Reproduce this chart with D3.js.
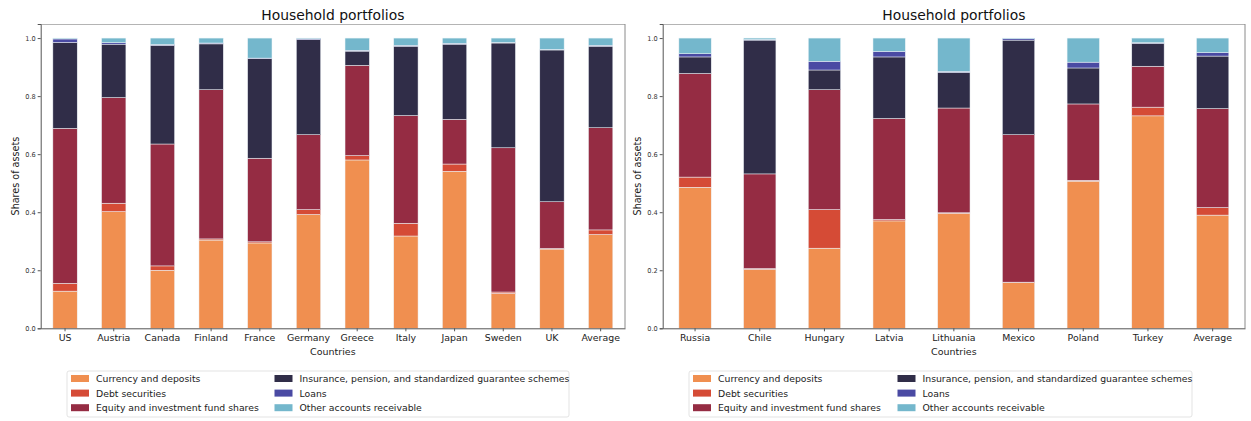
<!DOCTYPE html>
<html>
<head>
<meta charset="utf-8">
<script src="https://cdn.jsdelivr.net/npm/d3@7"></script>
<style>
  html, body { margin: 0; padding: 0; background: #fff; }
  svg { display: block; font-family: "DejaVu Sans", sans-serif; }
</style>
</head>
<body>
<svg id="chart" width="1251" height="421"></svg>
<script>
// Asset categories (stack order, bottom to top)
const assetTypes = [
  "Currency and deposits",
  "Debt securities",
  "Equity and investment fund shares",
  "Insurance, pension, and standardized guarantee schemes",
  "Loans",
  "Other accounts receivable"
];
const assetColors = ["#f08f50", "#d54b36", "#952c43", "#302d48", "#4a4aa3", "#74b7cc"];

// Advanced economies
const advCountries = ["US", "Austria", "Canada", "Finland", "France", "Germany", "Greece", "Italy", "Japan", "Sweden", "UK", "Average"];
const advCurrency  = [0.128, 0.402, 0.200, 0.304, 0.294, 0.392, 0.580, 0.318, 0.541, 0.120, 0.273, 0.323];
const advDebt      = [0.027, 0.029, 0.015, 0.004, 0.004, 0.017, 0.015, 0.044, 0.025, 0.005, 0.002, 0.016];
const advEquity    = [0.534, 0.364, 0.420, 0.514, 0.288, 0.258, 0.311, 0.371, 0.154, 0.497, 0.161, 0.352];
const advInsurance = [0.296, 0.184, 0.340, 0.158, 0.343, 0.328, 0.049, 0.239, 0.259, 0.361, 0.523, 0.281];
const advLoans     = [0.012, 0.005, 0.003, 0.003, 0.002, 0.003, 0.003, 0.003, 0.003, 0.002, 0.002, 0.003];
const advOther     = [0.003, 0.016, 0.022, 0.017, 0.069, 0.002, 0.042, 0.025, 0.018, 0.015, 0.039, 0.025];

// Emerging economies
const emCountries = ["Russia", "Chile", "Hungary", "Latvia", "Lithuania", "Mexico", "Poland", "Turkey", "Average"];
const emCurrency  = [0.486, 0.203, 0.276, 0.370, 0.396, 0.158, 0.507, 0.732, 0.390];
const emDebt      = [0.035, 0.003, 0.133, 0.005, 0.002, 0.001, 0.003, 0.030, 0.026];
const emEquity    = [0.357, 0.326, 0.413, 0.348, 0.361, 0.508, 0.263, 0.141, 0.341];
const emInsurance = [0.057, 0.461, 0.068, 0.212, 0.123, 0.326, 0.124, 0.079, 0.181];
const emLoans     = [0.011, 0.002, 0.030, 0.019, 0.003, 0.005, 0.020, 0.002, 0.012];
const emOther     = [0.054, 0.005, 0.080, 0.046, 0.115, 0.002, 0.083, 0.016, 0.050];

const yTicks = [0, 0.2, 0.4, 0.6, 0.8, 1.0];

const svg = d3.select("#chart");

function buildRows(countries, series) {
  return countries.map((c, i) => {
    const row = { country: c };
    assetTypes.forEach((t, k) => { row[t] = series[k][i]; });
    return row;
  });
}

function drawPanel(opts) {
  const { left, right, top, bottom, countries, series, ylabelX } = opts;
  const g = svg.append("g");
  const rows = buildRows(countries, series);

  const x = d3.scaleBand().domain(countries).range([left, right])
    .paddingInner(0.5).paddingOuter(0.25);
  const y = d3.scaleLinear().domain([0, 1.0485]).range([bottom, top]);

  const stacked = d3.stack().keys(assetTypes)(rows);

  g.selectAll("g.layer").data(stacked).join("g")
    .attr("class", "layer")
    .attr("fill", (d, i) => assetColors[i])
    .selectAll("rect").data(d => d).join("rect")
    .attr("x", d => x(d.data.country))
    .attr("width", x.bandwidth())
    .attr("y", d => y(d[1]))
    .attr("height", d => Math.max(0, y(d[0]) - y(d[1])))
    .attr("stroke", "#eef4f8")
    .attr("stroke-width", 0.5);

  // frame
  g.append("line").attr("x1", left).attr("x2", right).attr("y1", top + 0.5).attr("y2", top + 0.5)
    .attr("stroke", "#b4b4b4").attr("stroke-width", 1.2);
  g.append("line").attr("x1", right).attr("x2", right).attr("y1", top).attr("y2", bottom)
    .attr("stroke", "#8a8a8a").attr("stroke-width", 1);

  const yAxis = g.append("g").attr("transform", `translate(${left},0)`)
    .call(d3.axisLeft(y).tickValues(yTicks).tickFormat(d3.format(".1f")).tickSize(3).tickPadding(2));
  yAxis.select(".domain").attr("stroke", "#555").attr("stroke-width", 1);
  yAxis.selectAll(".tick line").attr("stroke", "#555");
  yAxis.selectAll(".tick text").attr("font-size", 6.6).attr("fill", "#333")
    .attr("font-family", "DejaVu Sans");

  const xAxis = g.append("g").attr("transform", `translate(0,${bottom})`)
    .call(d3.axisBottom(x).tickSize(3).tickPadding(3.5).tickSizeOuter(0));
  xAxis.select(".domain").attr("stroke", "#555").attr("stroke-width", 1);
  xAxis.selectAll(".tick line").attr("stroke", "#555");
  xAxis.selectAll(".tick text").attr("font-size", 9.4).attr("fill", "#222")
    .attr("font-family", "DejaVu Sans");

  const cx = (left + right) / 2;
  g.append("text").attr("x", cx).attr("y", 20).attr("text-anchor", "middle")
    .attr("font-size", 13.9).attr("fill", "#111").text("Household portfolios");
  g.append("text").attr("x", cx).attr("y", 355).attr("text-anchor", "middle")
    .attr("font-size", 9.5).attr("fill", "#222").text("Countries");
  g.append("text").attr("transform", `translate(${ylabelX},${(top + bottom) / 2}) rotate(-90)`)
    .attr("text-anchor", "middle").attr("font-size", 9.6).attr("fill", "#222")
    .text("Shares of assets");

  // legend
  const lg = opts.legend;
  g.append("rect").attr("x", lg.x).attr("y", lg.y).attr("width", lg.w).attr("height", lg.h)
    .attr("rx", 2).attr("fill", "#fff").attr("stroke", "#dcdcdc").attr("stroke-width", 0.8);
  assetTypes.forEach((t, i) => {
    const col = Math.floor(i / 3), row = i % 3;
    const sx = lg.x + 4 + col * lg.colStep;
    const cy = lg.y + 7.5 + row * 14.6;
    g.append("rect").attr("x", sx).attr("y", cy - 3.5).attr("width", 18).attr("height", 7)
      .attr("fill", assetColors[i]);
    g.append("text").attr("x", sx + 25).attr("y", cy + 3.4)
      .attr("font-size", 9.3).attr("fill", "#222").text(t);
  });
}

drawPanel({
  left: 40.7, right: 625, top: 24, bottom: 328.3,
  countries: advCountries,
  series: [advCurrency, advDebt, advEquity, advInsurance, advLoans, advOther],
  ylabelX: 19,
  legend: { x: 67, y: 371, w: 502, h: 46, colStep: 203.5 }
});

drawPanel({
  left: 662.7, right: 1245, top: 24, bottom: 328.3,
  countries: emCountries,
  series: [emCurrency, emDebt, emEquity, emInsurance, emLoans, emOther],
  ylabelX: 640.5,
  legend: { x: 689, y: 371, w: 503, h: 46, colStep: 204.5 }
});
</script>
</body>
</html>
